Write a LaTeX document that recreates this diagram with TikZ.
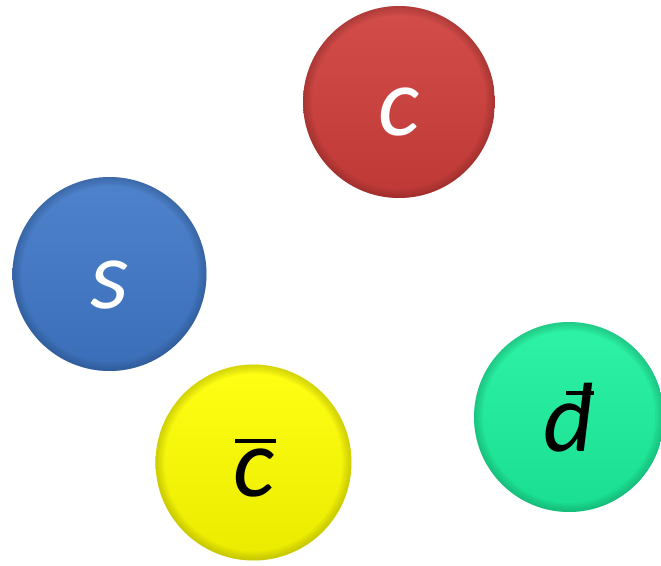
\documentclass[tikz,border=0pt]{standalone}
\usepackage{fontspec}
\setmainfont{Carlito}
\usetikzlibrary{calc}
\definecolor{quarkred}{HTML}{CF3E3B}
\definecolor{quarkblue}{HTML}{3F78C8}
\definecolor{quarkyellow}{HTML}{FFFF00}
\definecolor{quarkgreen}{HTML}{1CF29E}
\newcommand{\cbarglyph}{\rlap{\hspace{0.04cm}\rule[1.08cm]{0.82cm}{0.08cm}}c}
\newcommand{\dbarglyph}{d\/\llap{\rule[1.12cm]{0.56cm}{0.08cm}}}
\tikzset{
  quark/.style={
    circle,
    inner sep=0pt,
    minimum size=3.84cm,
    top color=#1!92!white,
    bottom color=#1!92!black,
    path picture={
      \foreach \w in {1,...,5}
        \draw[#1!55!black, opacity=0.08, line width=\w*2pt]
          let \p1=(path picture bounding box.north),
              \p2=(path picture bounding box.center)
          in (\p2) circle ({\y1-\y2});
    },
    text height=1.5cm,
    text depth=0.14cm,
    font=\fontsize{56}{60}\selectfont\itshape
  }
}
\begin{document}
\begin{tikzpicture}[x=0.02cm, y=-0.02cm]
  \useasboundingbox (0,0) rectangle (661,565);
  \node[quark=quarkred, text=white] (c) at (399,102) {c};
  \node[quark=quarkblue, text=white, minimum size=3.88cm] (s) at (109.5,274) {s};
  \node[quark=quarkyellow, text=black, minimum size=3.92cm] (cbar) at (253.5,462.5) {\cbarglyph};
  \node[quark=quarkgreen, text=black, minimum size=3.80cm] (dbar) at (569,417) {\dbarglyph};
\end{tikzpicture}
\end{document}
